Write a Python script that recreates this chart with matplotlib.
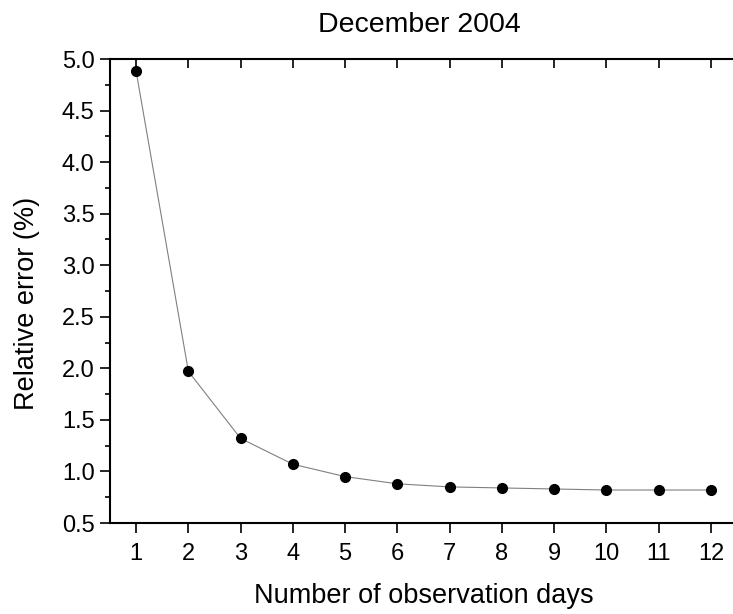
import matplotlib.pyplot as plt
import numpy as np

plt.rcParams['font.family'] = ['Liberation Sans', 'DejaVu Sans']

# relative error vs number of observation days
days = [1, 2, 3, 4, 5, 6, 7, 8, 9, 10, 11, 12]
rel_err = [4.88, 1.97, 1.32, 1.07, 0.95, 0.88, 0.85, 0.84, 0.83, 0.82, 0.82, 0.82]
yticks = [0.5, 1.0, 1.5, 2.0, 2.5, 3.0, 3.5, 4.0, 4.5, 5.0]

fig = plt.figure(figsize=(7.33, 6.14), dpi=100)
ax = fig.add_axes([0.1501, 0.1482, 0.8554, 0.7557])

ax.plot(days, rel_err, color='#808080', lw=0.8, zorder=2)
ax.plot(days, rel_err, 'o', color='black', ms=7, zorder=3)

ax.set_xlim(0.5, 12.5)
ax.set_ylim(0.5, 5.0)
ax.set_xticks(days)
ax.set_yticks(yticks)
ax.set_yticks(np.arange(0.75, 5.0, 0.5), minor=True)
ax.set_yticklabels(['%.1f' % v for v in yticks])

ax.tick_params(axis='both', which='major', direction='out', length=7, width=1.2,
               labelsize=17)
ax.tick_params(axis='x', pad=7.5)
ax.tick_params(axis='y', pad=4)
ax.tick_params(axis='y', which='minor', direction='out', length=3.5, width=1.2)

top = ax.secondary_xaxis('top')
top.set_xticks(days)
top.tick_params(direction='in', length=6.5, width=1.2, labeltop=False)
top.spines['top'].set_linewidth(1.3)

for s in ax.spines.values():
    s.set_linewidth(1.5)

ax.set_xlabel('Number of observation days', fontsize=19.5, labelpad=13)
fig.text(0.0368, 0.505, 'Relative error (%)', fontsize=19.5, rotation=90,
         ha='center', va='center')
fig.text(0.572, 0.960, 'December 2004', fontsize=20.5, ha='center', va='center')

plt.savefig('out.png', dpi=100)
